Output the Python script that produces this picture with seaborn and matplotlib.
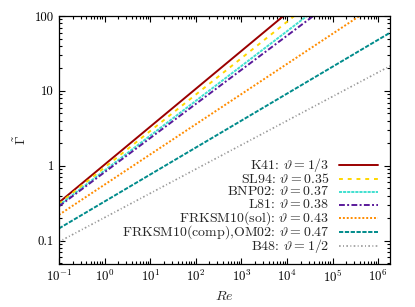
import numpy as np
import pandas as pd
import matplotlib
matplotlib.use('Agg')
import matplotlib.pyplot as plt
import matplotlib.ticker as mticker
from matplotlib.lines import Line2D
from matplotlib.legend_handler import HandlerLine2D
import seaborn as sns

# Values (line endpoints on log-log axes)
labels = [
    r'K41: $\vartheta = 1/3$',
    r'SL94: $\vartheta = 0.35$',
    r'BNP02: $\vartheta = 0.37$',
    r'L81: $\vartheta = 0.38$',
    r'FRKSM10(sol): $\vartheta = 0.43$',
    r'FRKSM10(comp),OM02: $\vartheta = 0.47$',
    r'B48: $\vartheta = 1/2$',
]
re_start = [0.1, 0.1, 0.1, 0.1, 0.1, 0.1, 0.1]
re_end = [8.4e3, 1.45e4, 2.75e4, 3.8e4, 3.9e5, 1.83e6, 1.83e6]
gamma_start = [0.324, 0.311, 0.297, 0.288, 0.222, 0.146, 0.097]
gamma_end = [100, 100, 100, 100, 100, 59.8, 21.5]

colors = ['#9b0000', '#ffd700', '#40e0d0', '#5a1a9a', '#ff8c00', '#008b8b', '#999999']
styles = [
    '-',
    (0, (2.0, 2.5)),
    (0, (1.6, 0.5)),
    (0, (3.0, 1.2, 1.0, 1.2)),
    (0, (1.0, 1.0)),
    (0, (2.2, 0.8)),
    (0, (1.0, 1.4, 0.6, 1.4)),
]
widths = [1.4, 1.4, 1.4, 1.4, 1.4, 1.4, 1.2]


# legend rows get a fixed tall box so they are evenly spaced; pull the
# sample line back down next to the text
class LowLine(HandlerLine2D):
    def create_artists(self, legend, orig_handle, xdescent, ydescent,
                       width, height, fontsize, trans):
        arts = super().create_artists(legend, orig_handle, xdescent, ydescent,
                                      width, height, fontsize, trans)
        for a in arts:
            a.set_ydata(np.asarray(a.get_ydata()) - 0.24 * fontsize)
        return arts


sns.set_style('ticks')
plt.rcParams['font.family'] = ['cmr10', 'DejaVu Serif']
plt.rcParams['mathtext.fontset'] = 'cm'
plt.rcParams['axes.formatter.use_mathtext'] = True
plt.rcParams['font.size'] = 9.5

fig = plt.figure(figsize=(4.15, 3.07), dpi=100)
ax = fig.add_axes([0.142, 0.140, 0.798, 0.808])

for i, lab in enumerate(labels):
    df = pd.DataFrame({'Re': [re_start[i], re_end[i]],
                       'G': [gamma_start[i], gamma_end[i]]})
    sns.lineplot(data=df, x='Re', y='G', ax=ax, color=colors[i],
                 linestyle=styles[i], linewidth=widths[i], label=lab)

ax.set_xscale('log')
ax.set_yscale('log')
ax.set_xlim(0.1, 1.83e6)
ax.set_ylim(0.049, 100)

ax.yaxis.set_major_locator(mticker.FixedLocator([0.1, 1, 10, 100]))
ax.yaxis.set_major_formatter(mticker.FixedFormatter(['0.1', '1', '10', '100']))
ax.xaxis.set_major_locator(mticker.LogLocator(base=10, numticks=20))
ax.xaxis.set_minor_locator(mticker.LogLocator(base=10, subs=np.arange(2, 10), numticks=20))
ax.yaxis.set_minor_locator(mticker.LogLocator(base=10, subs=np.arange(2, 10), numticks=20))
ax.xaxis.set_minor_formatter(mticker.NullFormatter())
ax.yaxis.set_minor_formatter(mticker.NullFormatter())

ax.tick_params(which='both', direction='in', top=True, right=True, colors='black',
               labelsize=9.2, width=0.8)
ax.tick_params(which='major', length=4.5)
ax.tick_params(which='minor', length=2.5)
for sp in ax.spines.values():
    sp.set_linewidth(0.9)
    sp.set_color('black')

ax.set_xlabel(r'$Re$', fontsize=10)
ax.set_ylabel(r'$\tilde{\Gamma}$', fontsize=10)

ax.legend(loc='lower right', bbox_to_anchor=(1.0, -0.012),
          markerfirst=False, frameon=False, fontsize=10,
          handlelength=2.8, handletextpad=0.7, handleheight=1.55,
          labelspacing=-0.32, borderaxespad=0.48,
          handler_map={Line2D: LowLine()})

fig.savefig('out.png', dpi=100)
